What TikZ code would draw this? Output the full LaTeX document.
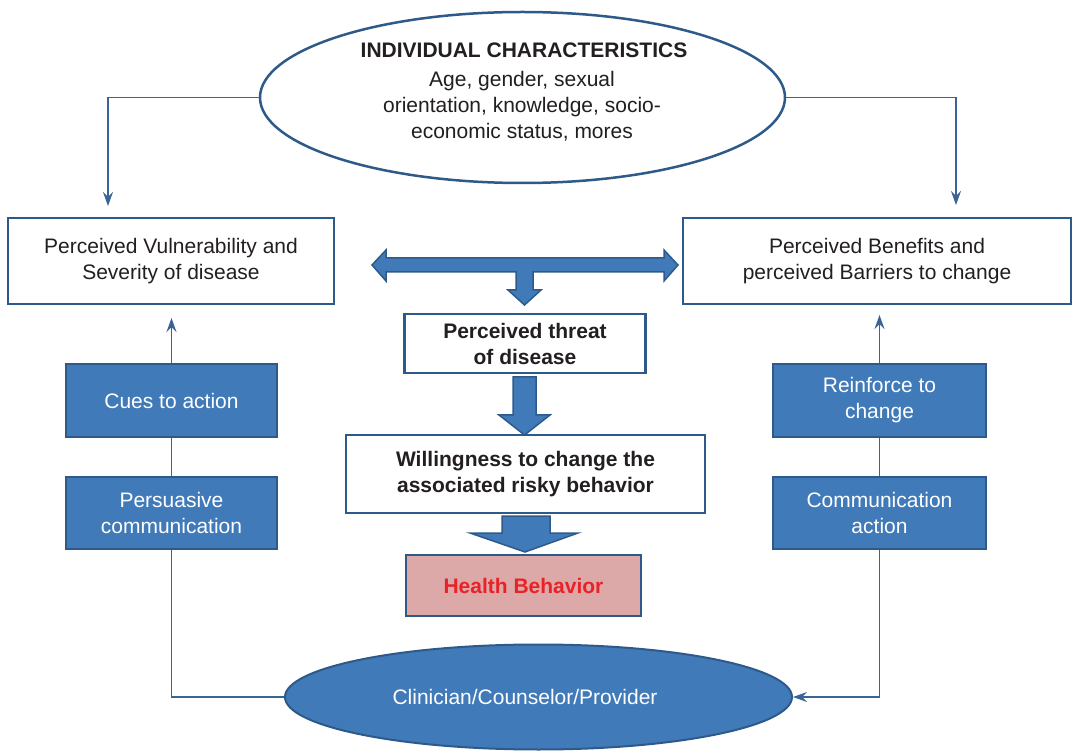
\documentclass[tikz,border=0pt]{standalone}
\usepackage{fontspec}
\setmainfont{Liberation Sans}
\usetikzlibrary{arrows.meta,shapes.geometric,calc}
\definecolor{boxblue}{RGB}{64,122,185}
\definecolor{edgeblue}{RGB}{46,90,138}
\definecolor{lineblue}{RGB}{58,100,150}
\definecolor{pinkfill}{RGB}{221,168,168}
\definecolor{redtext}{RGB}{232,35,40}
\definecolor{txt}{RGB}{35,31,32}
\begin{document}
\begin{tikzpicture}[x=1pt,y=-1pt,
  basefont/.style={font=\fontsize{21}{26}\selectfont},
  whitebox/.style={basefont, draw=edgeblue, line width=2.5pt, fill=white, text=txt, align=center, inner sep=0pt},
  bluebox/.style={basefont, draw=edgeblue, line width=2.5pt, fill=boxblue, text=white, align=center, inner sep=0pt},
  boldtext/.style={font=\fontsize{21}{26}\selectfont\bfseries},
  conn/.style={draw=lineblue, line width=1.3pt, -{Stealth[length=14pt,width=10pt,inset=5pt]}},
  plainconn/.style={draw=lineblue, line width=1.3pt},
  blockarrow/.style={fill=boxblue, draw=edgeblue, line width=1.5pt, line join=miter}
]
\useasboundingbox (0,0) rectangle (1072,751);

% top ellipse
\node[ellipse, draw=edgeblue, line width=2.5pt, fill=white, minimum width=525, minimum height=171, inner sep=0pt] (ind) at (522.5,97.5) {};
\node[boldtext, text=txt, inner sep=0pt] (indtitle) at (524,50) {INDIVIDUAL CHARACTERISTICS};
\node[basefont, text=txt, align=center, inner sep=0pt] (indtext) at (522,106) {Age, gender, sexual\\orientation, knowledge, socio-\\economic status, mores};

% upper boxes
\node[whitebox, minimum width=326, minimum height=86] (vul) at (171,261) {Perceived Vulnerability and\\Severity of disease};
\node[whitebox, minimum width=388, minimum height=86] (ben) at (877,261) {Perceived Benefits and\\perceived Barriers to change};

% central boxes
\node[whitebox, boldtext, minimum width=241, minimum height=59] (threat) at (525,343.5) {Perceived threat\\of disease};
\node[whitebox, boldtext, minimum width=359, minimum height=78] (will) at (525.5,474) {Willingness to change the\\associated risky behavior};
\node[whitebox, boldtext, fill=pinkfill, text=redtext, minimum width=235, minimum height=61] (health) at (523.5,585.5) {Health Behavior};

% side boxes
\node[bluebox, minimum width=211, minimum height=73] (cues) at (171.5,400.5) {Cues to action};
\node[bluebox, minimum width=211, minimum height=72] (pers) at (171.5,513) {Persuasive\\communication};
\node[bluebox, minimum width=213, minimum height=73] (reinf) at (879.5,400.5) {Reinforce to\\change};
\node[bluebox, minimum width=213, minimum height=72] (comm) at (879.5,513) {Communication\\action};

% bottom ellipse
\node[ellipse, draw=edgeblue, line width=2pt, fill=boxblue, minimum width=507, minimum height=105, inner sep=0pt] (clin) at (538.5,697) {};
\node[basefont, text=white, inner sep=0pt] (clintext) at (525,697) {Clinician/Counselor/Provider};

% free ends of connectors
\coordinate (vulin) at (108,206);
\coordinate (benin) at (956,205);
\coordinate (vulup) at (171.5,318);
\coordinate (benup) at (879.5,315);

% thin connectors
\draw[conn] (ind.west) -| (vulin);
\draw[conn] (ind.east) -| (benin);
\draw[plainconn] (clin.west) -| (pers.south);
\draw[plainconn] (pers.north) -- (cues.south);
\draw[conn] (cues.north) -- (vulup);
\draw[conn] (comm.south) |- (clin.east);
\draw[plainconn] (comm.north) -- (reinf.south);
\draw[conn] (reinf.north) -- (benup);

% block arrows
\draw[blockarrow] (372,265) -- (386,250) -- (386,258) -- (664,258) -- (664,250) -- (678,265) -- (664,281) -- (664,272) -- (533,272) -- (533,290) -- (541,290) -- (524.5,305) -- (508,290) -- (516,290) -- (516,272) -- (386,272) -- (386,281) -- cycle;
\draw[blockarrow] (513,377) -- (536,377) -- (536,415) -- (550,415) -- (524.5,435) -- (499,415) -- (513,415) -- cycle;
\draw[blockarrow] (502,516) -- (550,516) -- (550,533) -- (578,533) -- (525,552) -- (470,533) -- (502,533) -- cycle;
\end{tikzpicture}
\end{document}
